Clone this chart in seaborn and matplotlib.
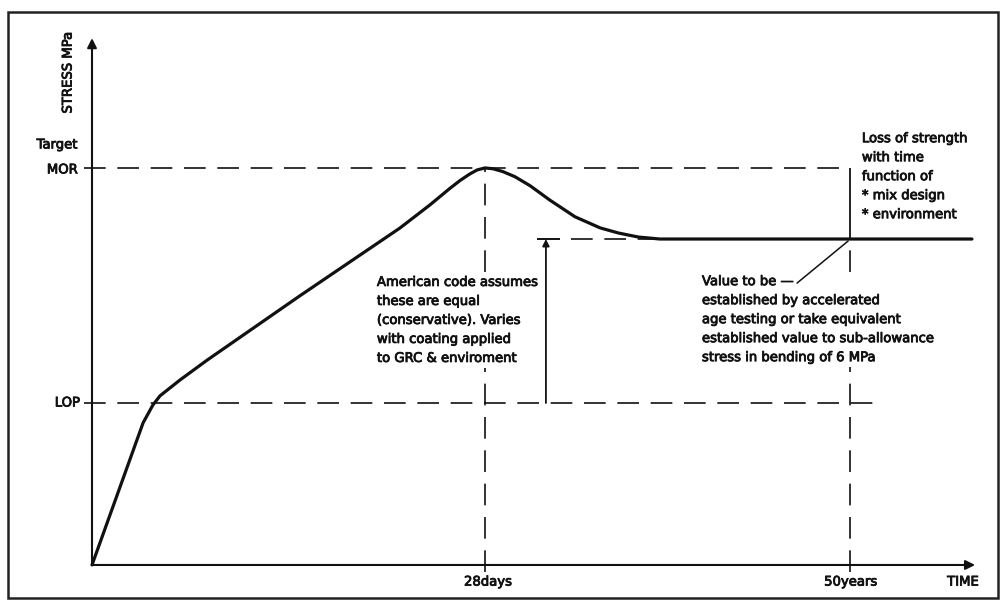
import matplotlib
matplotlib.use("Agg")
import matplotlib.pyplot as plt
import matplotlib.patheffects as pe
import seaborn as sns
import pandas as pd
from matplotlib.patches import Rectangle

# ---------------- data (arbitrary chart units) ----------------
curve_time = [0.0, 1.30, 1.55, 1.73, 2.24, 2.93, 5.29, 7.84, 8.60, 9.10, 9.36, 9.60,
              9.80, 10.0, 10.20, 10.45, 10.76, 11.15, 11.65, 12.29, 12.93, 13.40,
              13.90, 14.45, 22.39]
curve_stress = [0.0, 3.58, 4.03, 4.26, 4.66, 5.16, 6.78, 8.49, 9.07, 9.48, 9.68, 9.84,
                9.95, 10.0, 9.98, 9.91, 9.78, 9.55, 9.19, 8.77, 8.49, 8.36,
                8.26, 8.21, 8.21]

MOR = 10.0
LOP = 4.08
PLATEAU = 8.21
T28 = 10.0
T50 = 19.29
X_AXIS_END = 22.47
Y_AXIS_END = 13.27

y_labels = ["Target", "MOR", "LOP"]
x_labels = ["28days", "50years", "TIME"]
y_title = "STRESS MPa"
note_american = ["American code assumes", "these are equal",
                 "(conservative). Varies", "with coating applied",
                 "to GRC & enviroment"]
note_value = ["Value to be \u2014", "established by accelerated",
              "age testing or take equivalent",
              "established value to sub-allowance",
              "stress in bending of 6 MPa"]
note_loss = ["Loss of strength", "with time", "function of",
             "* mix design", "* environment"]

# ---------------- figure ----------------
sns.set_theme(style="white")
plt.rcParams['font.family'] = ['DejaVu Sans']
FS = 9.5
INK = "#111111"
thick = [pe.withStroke(linewidth=0.6, foreground=INK)]

fig = plt.figure(figsize=(10, 6.1), dpi=100)
ax = fig.add_axes([0, 0, 1, 1])
ax.set_xlim(-2.341, 23.104)
ax.set_ylim(-1.134, 14.23)
ax.axis("off")

# outer frame
fig.patches.append(Rectangle((0.008, 0.020), 0.990, 0.960, transform=fig.transFigure,
                             fill=False, lw=1.8, ec="#222222"))

dash = (0, (13, 7))

# guide lines
ax.hlines(MOR, -0.2, T50, colors=INK, lw=1.2, linestyles=[dash])
ax.hlines(LOP, -0.2, 19.92, colors=INK, lw=1.2, linestyles=[dash])
ax.hlines(PLATEAU, 11.32, 11.91, colors=INK, lw=1.4)
ax.hlines(PLATEAU, 12.2, T50, colors=INK, lw=1.2, linestyles=[dash])
ax.vlines(T28, -0.18, MOR, colors=INK, lw=1.2, linestyles=[dash])
ax.vlines(T50, -0.18, PLATEAU, colors=INK, lw=1.2, linestyles=[dash])
ax.vlines(T50, PLATEAU, MOR, colors=INK, lw=1.3)

# dimension arrow between LOP and plateau
ax.annotate("", xy=(11.55, PLATEAU), xytext=(11.55, LOP),
            arrowprops=dict(arrowstyle="-|>", lw=1.3, color=INK,
                            mutation_scale=10, shrinkA=0, shrinkB=0))

# main curve
df = pd.DataFrame({"time": curve_time, "stress": curve_stress})
sns.lineplot(data=df, x="time", y="stress", ax=ax, color=INK, lw=2.3,
             sort=False, estimator=None)
ax.set_xlabel("")
ax.set_ylabel("")

# axes with arrows
ax.annotate("", xy=(0, Y_AXIS_END), xytext=(0, 0),
            arrowprops=dict(arrowstyle="-|>", lw=1.5, color=INK,
                            mutation_scale=14, shrinkA=0, shrinkB=0))
ax.annotate("", xy=(X_AXIS_END, 0), xytext=(0, 0),
            arrowprops=dict(arrowstyle="-|>", lw=1.5, color=INK,
                            mutation_scale=14, shrinkA=0, shrinkB=0))

# leader line (drawn above the note box)
ax.plot([17.94, 19.24], [7.10, 8.16], color=INK, lw=1.1, zorder=6)

# axis labels
def label(x, y, s, **kw):
    ax.text(x, y, s, fontsize=FS, color=INK, path_effects=thick, **kw)

label(-0.61, 12.4, y_title, rotation=90, ha="center", va="center")
label(-0.36, 10.58, y_labels[0], ha="right", va="center")
label(-0.36, 9.95, y_labels[1], ha="right", va="center")
label(-0.305, LOP, y_labels[2], ha="right", va="center")
label(10.08, -0.43, x_labels[0], ha="center", va="center")
label(19.31, -0.43, x_labels[1], ha="center", va="center")
label(22.16, -0.43, x_labels[2], ha="center", va="center")

# notes
box = dict(boxstyle="square,pad=0.25", fc="white", ec="none")
label(7.25, 7.28, "\n".join(note_american), ha="left", va="top",
      linespacing=1.6, bbox=box)
label(15.52, 7.30, "\n".join(note_value), ha="left", va="top",
      linespacing=1.6, bbox=box)
label(19.59, 10.90, "\n".join(note_loss), ha="left", va="top",
      linespacing=1.6)

fig.savefig("out.png", dpi=100, facecolor="white")
